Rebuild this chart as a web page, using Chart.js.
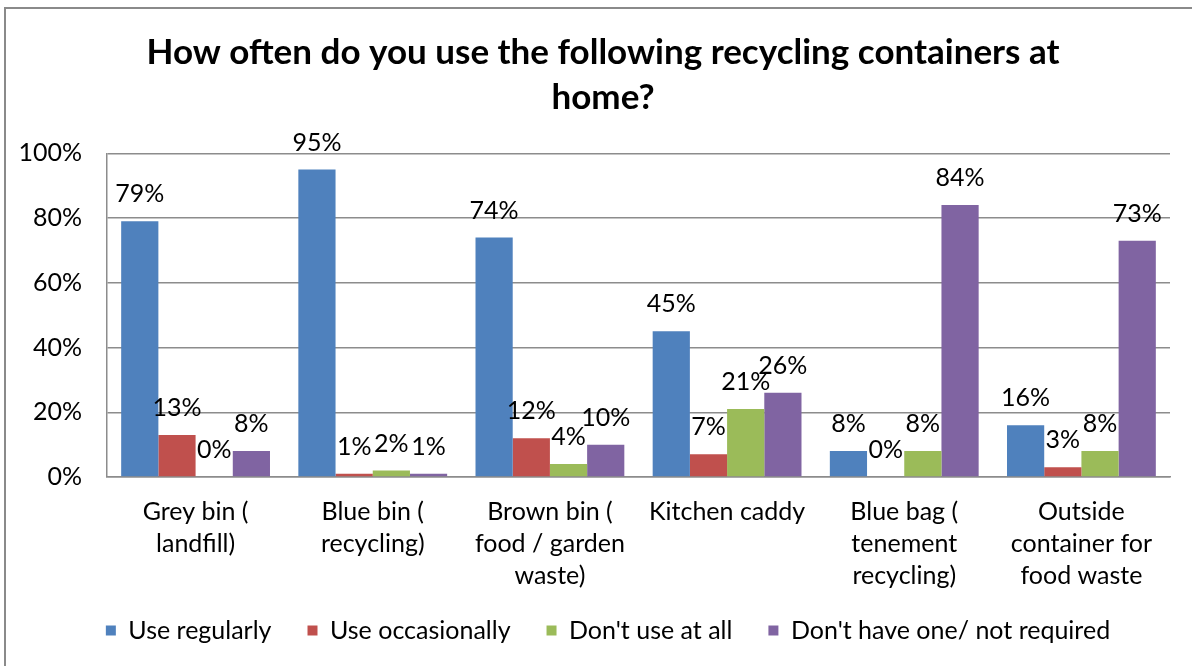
<html>
    <head>
        <script src="https://cdn.jsdelivr.net/npm/chart.js@4.4.1/dist/chart.umd.min.js"></script>
        <style>
            body {
                margin: 0;
                background: #ffffff;
            }
            .frame {
                position: absolute;
                left: 4px;
                top: 7px;
                width: 1300px;
                height: 800px;
                border: 2px solid #8a8a8a;
            }
            #myChart {
                position: absolute;
                left: 0;
                top: 0;
            }
        </style>
    </head>

    <body>
        <div class="frame"></div>
        <canvas id="myChart" width="1192" height="666"></canvas>

        <script>
            var chartTitle = ["How often do you use the following recycling containers at", "home?"];
            var containers = [
                ["Grey bin (", "landfill)"],
                ["Blue bin (", "recycling)"],
                ["Brown bin (", "food / garden", "waste)"],
                ["Kitchen caddy"],
                ["Blue bag (", "tenement", "recycling)"],
                ["Outside", "container for", "food waste"]
            ];
            var seriesNames = ["Use regularly", "Use occasionally", "Don't use at all", "Don't have one/ not required"];
            var useRegularly = [79, 95, 74, 45, 8, 16];
            var useOccasionally = [13, 1, 12, 7, 0, 3];
            var dontUseAtAll = [0, 2, 4, 21, 8, 8];
            var dontHaveOne = [8, 1, 10, 26, 84, 73];
            var yTicks = [0, 20, 40, 60, 80, 100];

            var seriesColours = ["#4f81bd", "#c0504d", "#9bbb59", "#8064a2"];

            Chart.defaults.font.family = "Lato, 'Open Sans', sans-serif";
            Chart.defaults.color = "#000000";

            // percentage labels sitting above each bar
            var barLabels = {
                id: 'barLabels',
                afterDatasetsDraw: function(chart) {
                    var ctx = chart.ctx;
                    ctx.save();
                    ctx.font = "25px Lato, 'Open Sans', sans-serif";
                    ctx.fillStyle = "#000000";
                    ctx.textAlign = "center";
                    ctx.textBaseline = "middle";
                    chart.data.datasets.forEach(function(ds, i) {
                        chart.getDatasetMeta(i).data.forEach(function(bar, j) {
                            ctx.fillText(ds.data[j] + "%", bar.x, bar.y - 27);
                        });
                    });
                    ctx.restore();
                }
            };

            // the y axis takes the whole left margin, so title and legend
            // get moved over to sit centred under the plot instead
            var centreBlocks = {
                id: 'centreBlocks',
                afterLayout: function(chart) {
                    chart.titleBlock.left += 18;
                    chart.titleBlock.right += 18;
                    chart.legend.left += 23;
                    chart.legend.right += 23;
                    chart.legend.top -= 8;
                    chart.legend.bottom -= 8;
                }
            };

            var allSeries = [useRegularly, useOccasionally, dontUseAtAll, dontHaveOne];
            var datasets = allSeries.map(function(values, i) {
                return {
                    label: seriesNames[i],
                    data: values,
                    backgroundColor: seriesColours[i],
                    categoryPercentage: 0.84,
                    barPercentage: 1.0
                };
            });

            var ctx = document.getElementById('myChart').getContext('2d');
            var chart = new Chart(ctx, {
                type: "bar",
                data: {
                    labels: containers,
                    datasets: datasets
                },
                options: {
                    responsive: false,
                    animation: false,
                    layout: {
                        padding: { top: 8, right: 22, bottom: 5, left: 0 }
                    },
                    plugins: {
                        title: {
                            display: true,
                            text: chartTitle,
                            color: "#000000",
                            font: { size: 35, weight: "bold", lineHeight: 1.29 },
                            padding: { top: 22, bottom: 33 }
                        },
                        legend: {
                            position: "bottom",
                            labels: {
                                boxWidth: 10,
                                boxHeight: 10,
                                padding: 36,
                                font: { size: 25 }
                            }
                        },
                        tooltip: { enabled: false }
                    },
                    scales: {
                        x: {
                            grid: { display: false, drawTicks: false },
                            border: { display: true, color: "#8c8c8c", width: 1.5 },
                            ticks: {
                                padding: 19,
                                maxRotation: 0,
                                autoSkip: false,
                                font: { size: 25, lineHeight: 1.28 }
                            },
                            afterFit: function(scale) {
                                scale.height = 113;
                            }
                        },
                        y: {
                            min: 0,
                            max: 100,
                            afterBuildTicks: function(scale) {
                                scale.ticks = yTicks.map(function(v) { return { value: v }; });
                            },
                            grid: { color: "#8c8c8c", lineWidth: 1.5, drawTicks: false },
                            border: { display: true, color: "#8c8c8c", width: 1.5 },
                            ticks: {
                                padding: 25,
                                font: { size: 25 },
                                callback: function(v) { return v + "%"; }
                            },
                            afterFit: function(scale) {
                                scale.width = 107;
                            }
                        }
                    }
                },
                plugins: [barLabels, centreBlocks]
            });
        </script>
    </body>
</html>
